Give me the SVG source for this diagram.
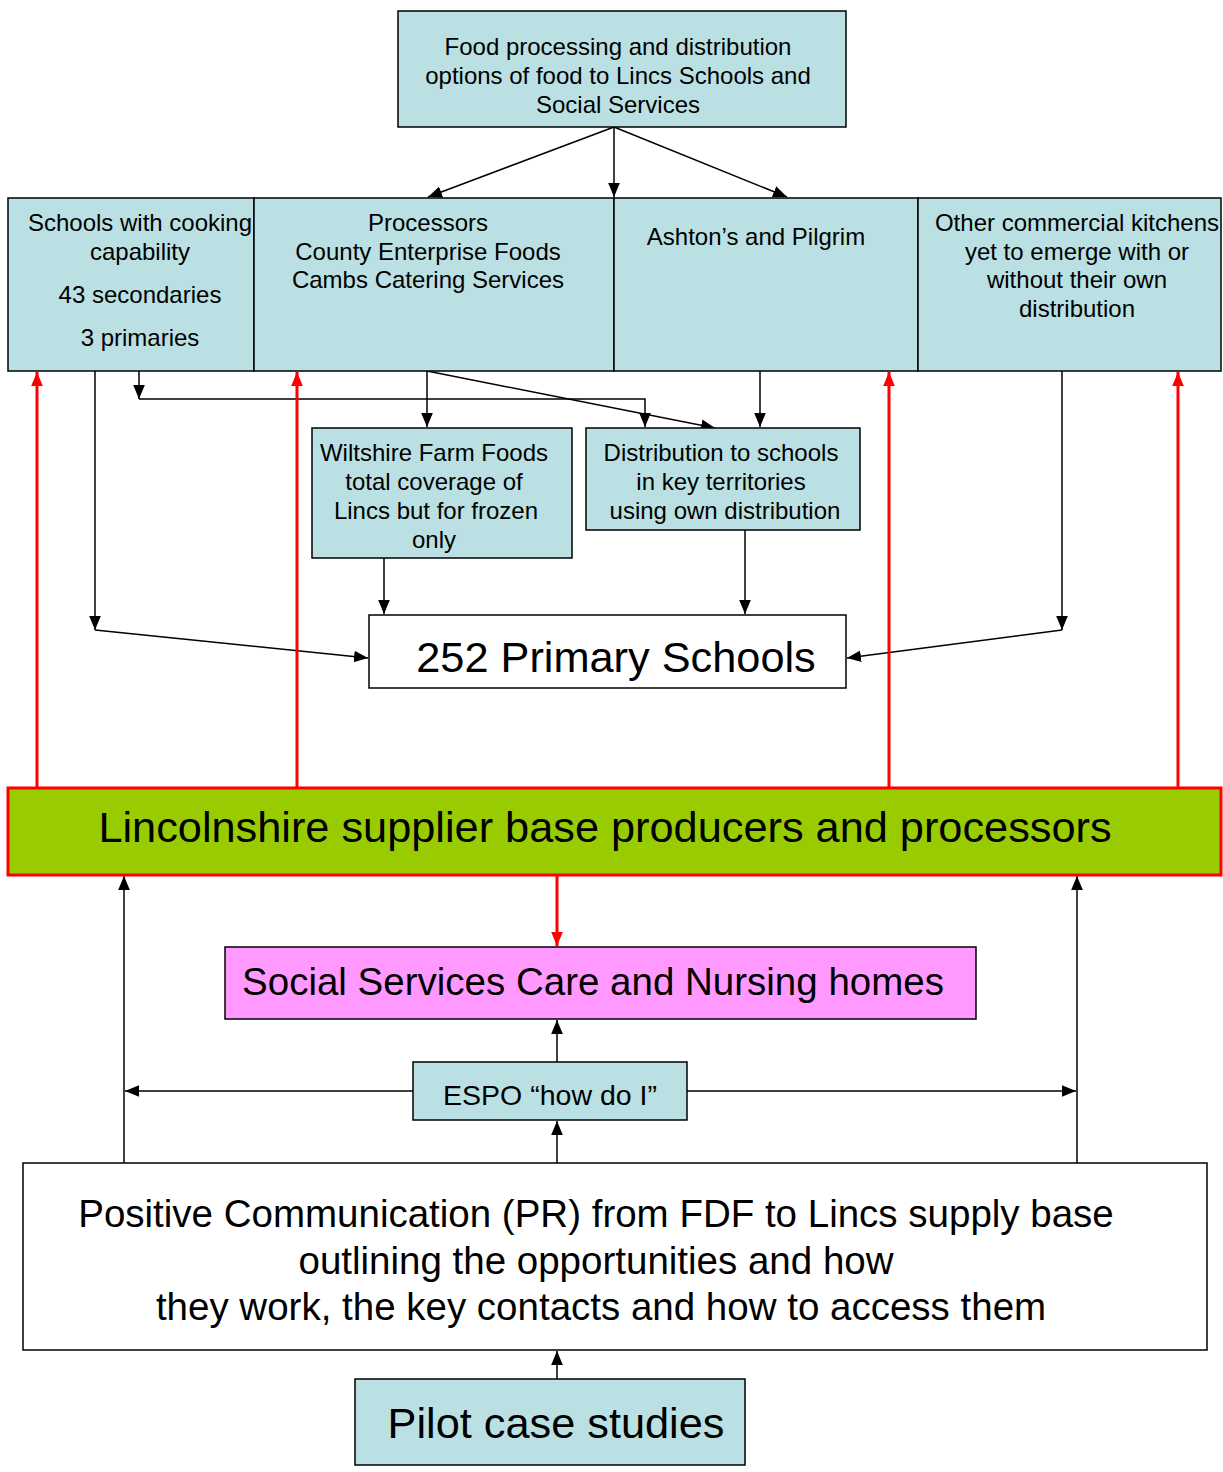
<svg xmlns="http://www.w3.org/2000/svg" width="1223" height="1472" viewBox="0 0 1223 1472">
<style>
.box{fill:#BBE0E3;stroke:#000;stroke-width:1.5}
.wbox{fill:#fff;stroke:#000;stroke-width:1.5}
.t{font-family:"Liberation Sans",Arial,sans-serif;fill:#000;text-anchor:middle}
.s{font-size:24px}
.l{font-size:43.3px}
.m{font-size:38.5px}
.c{fill:none;stroke:#000;stroke-width:1.5}
.r{fill:none;stroke:#FF0000;stroke-width:3}
</style>
<defs>
<marker id="a" markerUnits="userSpaceOnUse" markerWidth="14" markerHeight="12" refX="12" refY="5" orient="auto" viewBox="0 0 12 10">
<path d="M0,0 L12,5 L0,10 Z" fill="#000"/>
</marker>
<marker id="ar" markerUnits="userSpaceOnUse" markerWidth="14" markerHeight="12" refX="12" refY="5" orient="auto" viewBox="0 0 12 10">
<path d="M0,0 L12,5 L0,10 Z" fill="#FF0000"/>
</marker>
</defs>
<rect width="1223" height="1472" fill="#fff"/>

<g id="connectors">
<line class="c" x1="614" y1="127" x2="428" y2="197" marker-end="url(#a)"/>
<line class="c" x1="614" y1="127" x2="614" y2="197" marker-end="url(#a)"/>
<line class="c" x1="614" y1="127" x2="787" y2="197" marker-end="url(#a)"/>
<line class="c" x1="95" y1="371" x2="95" y2="630" marker-end="url(#a)"/>
<line class="c" x1="95" y1="630" x2="368" y2="658" marker-end="url(#a)"/>
<line class="c" x1="139" y1="371" x2="139" y2="399" marker-end="url(#a)"/>
<polyline class="c" points="139,399 645,399 645,427" marker-end="url(#a)"/>
<line class="c" x1="427" y1="371" x2="427" y2="427" marker-end="url(#a)"/>
<line class="c" x1="427" y1="371" x2="715" y2="428" marker-end="url(#a)"/>
<line class="c" x1="760" y1="371" x2="760" y2="427" marker-end="url(#a)"/>
<line class="c" x1="384" y1="558" x2="384" y2="614" marker-end="url(#a)"/>
<line class="c" x1="745" y1="530" x2="745" y2="614" marker-end="url(#a)"/>
<line class="c" x1="1062" y1="371" x2="1062" y2="630" marker-end="url(#a)"/>
<line class="c" x1="1062" y1="630" x2="847" y2="658" marker-end="url(#a)"/>
<line class="r" x1="37" y1="788" x2="37" y2="372" marker-end="url(#ar)"/>
<line class="r" x1="297" y1="788" x2="297" y2="372" marker-end="url(#ar)"/>
<line class="r" x1="889" y1="788" x2="889" y2="372" marker-end="url(#ar)"/>
<line class="r" x1="1178" y1="788" x2="1178" y2="372" marker-end="url(#ar)"/>
<line class="r" x1="557" y1="876" x2="557" y2="946" marker-end="url(#ar)"/>
<line class="c" x1="557" y1="1062" x2="557" y2="1020" marker-end="url(#a)"/>
<line class="c" x1="413" y1="1091" x2="125" y2="1091" marker-end="url(#a)"/>
<line class="c" x1="687" y1="1091" x2="1076" y2="1091" marker-end="url(#a)"/>
<line class="c" x1="124" y1="1163" x2="124" y2="876" marker-end="url(#a)"/>
<line class="c" x1="1077" y1="1163" x2="1077" y2="876" marker-end="url(#a)"/>
<line class="c" x1="557" y1="1163" x2="557" y2="1121" marker-end="url(#a)"/>
<line class="c" x1="557" y1="1379" x2="557" y2="1351" marker-end="url(#a)"/>
</g>

<g id="top">
<rect class="box" x="398" y="11" width="448" height="116"/>
<text class="t s" x="618" y="55">Food processing and distribution</text>
<text class="t s" x="618" y="84">options of food to Lincs Schools and</text>
<text class="t s" x="618" y="113">Social Services</text>
</g>
<g id="schools">
<rect class="box" x="8" y="198" width="246" height="173"/>
<text class="t s" x="140" y="231">Schools with cooking</text>
<text class="t s" x="140" y="260">capability</text>
<text class="t s" x="140" y="303">43 secondaries</text>
<text class="t s" x="140" y="346">3 primaries</text>
</g>
<g id="processors">
<rect class="box" x="254" y="198" width="360" height="173"/>
<text class="t s" x="428" y="231">Processors</text>
<text class="t s" x="428" y="260">County Enterprise Foods</text>
<text class="t s" x="428" y="288">Cambs Catering Services</text>
</g>
<g id="ashtons">
<rect class="box" x="614" y="198" width="304" height="173"/>
<text class="t s" x="756" y="245">Ashton’s and Pilgrim</text>
</g>
<g id="other">
<rect class="box" x="918" y="198" width="303" height="173"/>
<text class="t s" x="1077" y="231">Other commercial kitchens</text>
<text class="t s" x="1077" y="260">yet to emerge with or</text>
<text class="t s" x="1077" y="288">without their own</text>
<text class="t s" x="1077" y="317">distribution</text>
</g>
<g id="wiltshire">
<rect class="box" x="312" y="428" width="260" height="130"/>
<text class="t s" x="434" y="461">Wiltshire Farm Foods</text>
<text class="t s" x="434" y="490">total coverage of</text>
<text class="t s" x="436" y="519">Lincs but for frozen</text>
<text class="t s" x="434" y="548">only</text>
</g>
<g id="distribution">
<rect class="box" x="586" y="428" width="274" height="102"/>
<text class="t s" x="721" y="461">Distribution to schools</text>
<text class="t s" x="721" y="490">in key territories</text>
<text class="t s" x="725" y="519">using own distribution</text>
</g>
<g id="primary">
<rect class="wbox" x="369" y="615" width="477" height="73"/>
<text class="t l" x="616" y="672">252 Primary Schools</text>
</g>
<g id="supplier">
<rect x="8" y="788" width="1213" height="87" fill="#99CC00" stroke="#FF0000" stroke-width="3"/>
<text class="t l" x="605" y="842">Lincolnshire supplier base producers and processors</text>
</g>
<g id="social">
<rect x="225" y="947" width="751" height="72" fill="#FF99FF" stroke="#000" stroke-width="1.5"/>
<text class="t m" x="593" y="995">Social Services Care and Nursing homes</text>
</g>
<g id="espo">
<rect class="box" x="413" y="1062" width="274" height="58"/>
<text class="t" style="font-size:28.5px" x="550" y="1105">ESPO “how do I”</text>
</g>
<g id="pr">
<rect class="wbox" x="23" y="1163" width="1184" height="187"/>
<text class="t m" x="596" y="1227">Positive Communication (PR) from FDF to Lincs supply base</text>
<text class="t m" x="596" y="1274">outlining the opportunities and how</text>
<text class="t m" x="601" y="1320">they work, the key contacts and how to access them</text>
</g>
<g id="pilot">
<rect class="box" x="355" y="1379" width="390" height="86"/>
<text class="t l" x="556" y="1438">Pilot case studies</text>
</g>
</svg>
